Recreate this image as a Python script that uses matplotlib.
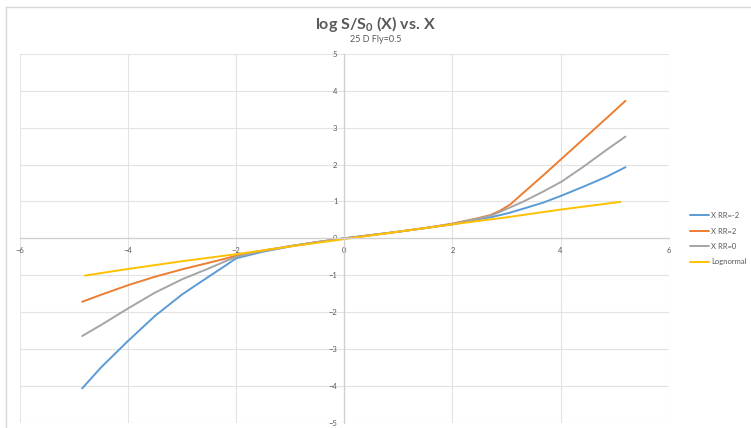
import matplotlib.pyplot as plt
from matplotlib.lines import Line2D

# X grid shared by the three risk-reversal series
x_rr = [-4.85, -4.5, -4.0, -3.5, -3.0, -2.5, -2.2, -2.0, -1.5, -1.0, -0.5, 0.0,
        0.5, 1.0, 1.5, 2.0, 2.45, 2.7, 2.88, 3.07, 3.3, 3.68, 4.02, 4.42, 4.85, 5.2]

rr_minus2 = [-4.07, -3.50, -2.78, -2.10, -1.52, -1.03, -0.74, -0.54, -0.36, -0.22, -0.10, 0.0,
             0.09, 0.18, 0.28, 0.38, 0.51, 0.57, 0.63, 0.70, 0.80, 0.97, 1.16, 1.40, 1.67, 1.93]
rr_plus2 = [-1.72, -1.53, -1.27, -1.04, -0.84, -0.66, -0.55, -0.47, -0.33, -0.21, -0.10, 0.0,
            0.09, 0.18, 0.28, 0.40, 0.54, 0.63, 0.75, 0.92, 1.22, 1.71, 2.16, 2.69, 3.26, 3.73]
rr_zero = [-2.65, -2.35, -1.90, -1.47, -1.11, -0.81, -0.62, -0.50, -0.34, -0.21, -0.10, 0.0,
           0.09, 0.18, 0.28, 0.39, 0.53, 0.61, 0.72, 0.84, 0.99, 1.27, 1.54, 1.94, 2.40, 2.76]

x_logn = [-4.80, -4.0, -3.0, -2.0, -1.0, 0.0, 1.0, 2.0, 3.0, 4.0, 5.11]
lognormal = [-1.01, -0.83, -0.62, -0.43, -0.22, -0.02, 0.18, 0.38, 0.57, 0.78, 0.99]

series = [
    ("X RR=-2", x_rr, rr_minus2, "#5B9BD5"),
    ("X RR=2", x_rr, rr_plus2, "#ED7D31"),
    ("X RR=0", x_rr, rr_zero, "#A5A5A5"),
    ("Lognormal", x_logn, lognormal, "#FFC000"),
]

x_ticks = [-6, -4, -2, 0, 2, 4, 6]
y_ticks = [-5, -4, -3, -2, -1, 0, 1, 2, 3, 4, 5]

plt.rcParams["font.family"] = ["Lato", "DejaVu Sans"]
plt.rcParams["mathtext.fontset"] = "custom"
plt.rcParams["mathtext.rm"] = "Lato"
plt.rcParams["mathtext.bf"] = "Lato:bold"
text_gray = "#595959"
grid_gray = "#E3E3E3"

fig = plt.figure(figsize=(7.51, 4.28), dpi=100)
ax = fig.add_axes([0.0266, 0.0124, 0.8638, 0.8614])

for name, xs, ys, color in series:
    ax.plot(xs, ys, color=color, lw=1.4, label=name,
            solid_capstyle="round", solid_joinstyle="round")

ax.set_xlim(-6, 6)
ax.set_ylim(-5, 5)
ax.set_xticks(x_ticks)
ax.set_yticks(y_ticks)
ax.grid(True, color=grid_gray, lw=0.8)
ax.set_axisbelow(True)

# axes cross at the origin
ax.spines["left"].set_position(("data", 0))
ax.spines["bottom"].set_position(("data", 0))
ax.spines["top"].set_visible(False)
ax.spines["right"].set_visible(False)
for side in ("left", "bottom"):
    ax.spines[side].set_color("#D0D0D0")
    ax.spines[side].set_linewidth(0.9)
ax.tick_params(axis="both", length=0, labelsize=5.5, labelcolor=text_gray)
ax.tick_params(axis="y", pad=5)
ax.tick_params(axis="x", pad=6)

fig.text(0.5, 0.944, r"log S/S$_\mathbf{0}$ (X) vs. X", ha="center", va="center",
         fontsize=11.5, fontweight="bold", color=text_gray)
fig.text(0.5, 0.907, "25 D Fly=0.5", ha="center", va="center",
         fontsize=6.5, color=text_gray)

ax.legend(loc="center left", bbox_to_anchor=(1.022, 0.499), frameon=False,
          fontsize=5.5, labelcolor=text_gray, handlelength=2.5,
          handletextpad=0.3, labelspacing=1.1)

# chart frame
frame = "#D9D9D9"
fig.add_artist(Line2D([0.008, 1.0], [0.984, 0.984], color=frame, lw=1.0))
fig.add_artist(Line2D([0.008, 0.008], [0.0, 0.984], color=frame, lw=1.0))

fig.savefig("out.png", dpi=100)
